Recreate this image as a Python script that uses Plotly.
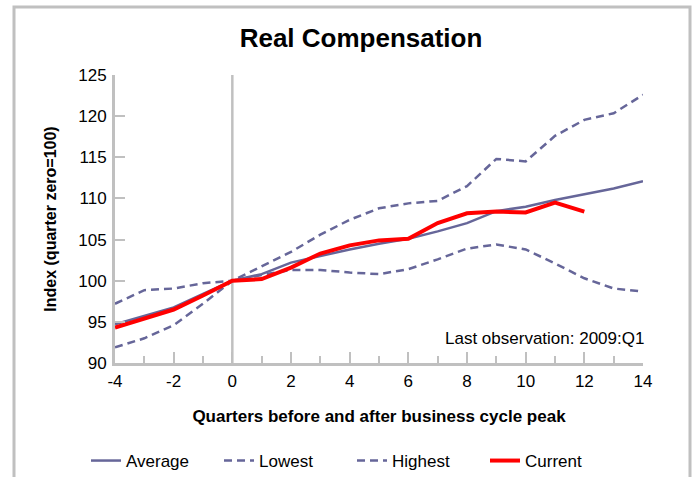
import plotly.graph_objects as go

quarters = list(range(-4, 15))
average = [94.7, 95.75, 96.75, 98.4, 100.0, 100.8, 102.2, 103.0, 103.8, 104.5, 105.1,
           106.0, 107.0, 108.45, 109.0, 109.8, 110.5, 111.2, 112.1]
lowest = [97.2, 98.85, 99.05, 99.7, 100.0, 100.7, 101.3, 101.3, 101.0, 100.8, 101.4,
          102.6, 103.9, 104.4, 103.8, 102.1, 100.3, 99.05, 98.7]
highest = [91.9, 93.0, 94.6, 97.2, 100.0, 101.8, 103.5, 105.6, 107.4, 108.8, 109.4,
           109.7, 111.5, 114.8, 114.5, 117.6, 119.55, 120.35, 122.6]
current_q = list(range(-4, 13))
current = [94.3, 95.4, 96.5, 98.2, 100.0, 100.2, 101.6, 103.3, 104.3, 104.9, 105.1,
           107.0, 108.2, 108.4, 108.3, 109.5, 108.4]

x_tickvals = list(range(-4, 15, 2))
x_ticktext = ["-4", "-2", "0", "2", "4", "6", "8", "10", "12", "14"]

FONT = "Arial, 'Liberation Sans', sans-serif"
BLUE = "#666699"
GRAY = "#c0c0c0"

fig = go.Figure()
fig.add_trace(go.Scatter(x=quarters, y=average, name="Average", mode="lines",
                         line=dict(color=BLUE, width=2.5)))
fig.add_trace(go.Scatter(x=quarters, y=lowest, name="Lowest", mode="lines",
                         line=dict(color=BLUE, width=2.5, dash="8px,5px")))
fig.add_trace(go.Scatter(x=quarters, y=highest, name="Highest", mode="lines",
                         line=dict(color=BLUE, width=2.5, dash="8px,5px")))
fig.add_trace(go.Scatter(x=current_q, y=current, name="Current", mode="lines",
                         line=dict(color="#ff0000", width=4)))

fig.update_layout(
    width=692, height=477,
    margin=dict(l=115, r=49, t=75, b=114, autoexpand=False),
    paper_bgcolor="white", plot_bgcolor="white",
    font=dict(family=FONT, size=17, color="black"),
    title=dict(text="<b>Real Compensation</b>", font=dict(size=26, family=FONT),
               x=361/692, xanchor="center", y=1-38/477, yanchor="middle"),
    showlegend=True,
    legend=dict(orientation="h", x=(86-115)/528, xanchor="left",
                y=(363-461)/288, yanchor="middle",
                font=dict(size=17, family=FONT),
                entrywidth=88, entrywidthmode="pixels",
                bgcolor="rgba(0,0,0,0)"),
    xaxis=dict(range=[-4, 14], tickmode="array", tickvals=x_tickvals, ticktext=x_ticktext,
               showgrid=False, zeroline=False,
               showline=True, linecolor=GRAY, linewidth=3,
               ticks="inside", ticklen=11, tickcolor=GRAY, tickwidth=2,
               minor=dict(dtick=1, tick0=-4, ticks="inside", ticklen=7, tickcolor=GRAY, tickwidth=2),
               tickfont=dict(size=17), ticklabelstandoff=1, fixedrange=True,
               title=dict(text="<b>Quarters before and after business cycle peak</b>",
                          font=dict(size=17), standoff=20)),
    yaxis=dict(range=[90, 125], dtick=5, showgrid=False, zeroline=False,
               showline=True, linecolor=GRAY, linewidth=3,
               ticks="inside", ticklen=10, tickcolor=GRAY, tickwidth=2,
               tickfont=dict(size=17), ticklabelstandoff=2, fixedrange=True,
               title=dict(text="<b>Index (quarter zero=100)</b>",
                          font=dict(size=16), standoff=18)),
)

fig.add_shape(type="line", xref="x", yref="y", x0=0, x1=0, y0=90, y1=125,
              line=dict(color=GRAY, width=2.5), layer="below")
fig.add_shape(type="rect", xref="paper", yref="paper",
              x0=(14-115)/528, x1=(690-115)/528, y0=(363-490)/288, y1=(363-7)/288,
              line=dict(color=GRAY, width=3), layer="below")

fig.add_annotation(text="Last observation: 2009:Q1", xref="paper", yref="paper",
                   x=(646-115)/528, y=(363-338)/288, xanchor="right", yanchor="middle",
                   showarrow=False, font=dict(size=17, family=FONT))

fig.write_html("out.html", config={"displayModeBar": False},
               post_script="document.body.style.margin='0';")
